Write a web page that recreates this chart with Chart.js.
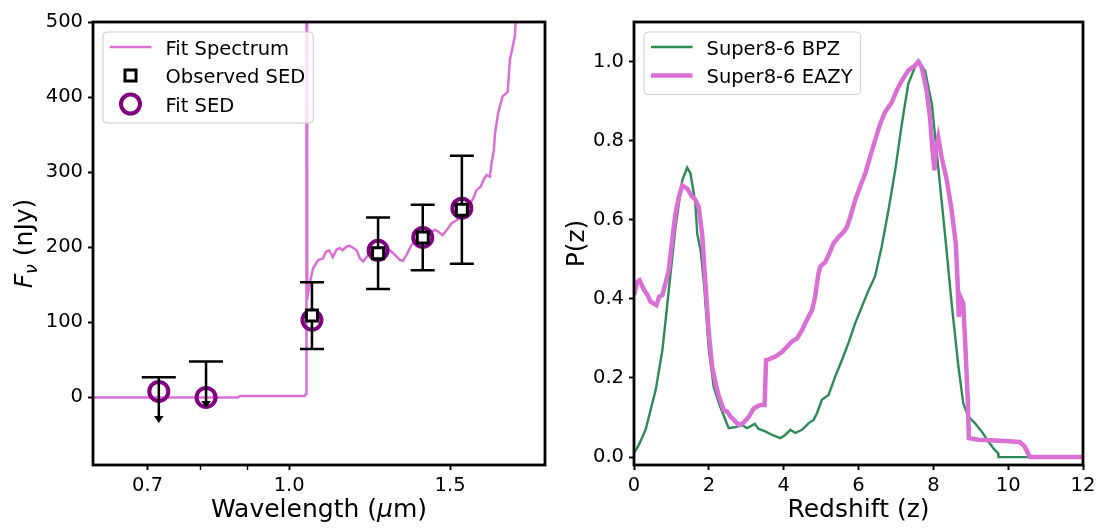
<!DOCTYPE html>
<html><head><meta charset="utf-8">
<script src="https://cdn.jsdelivr.net/npm/chart.js@4.4.1/dist/chart.umd.min.js"></script>
<style>
html,body{margin:0;padding:0;background:#fff;}
#wrap{position:relative;width:1115px;height:529px;overflow:hidden;}
#c1{position:absolute;left:0;top:0;}
#c2{position:absolute;left:560px;top:0;}
</style></head><body>
<div id="wrap"><canvas id="c1" width="560" height="529"></canvas><canvas id="c2" width="555" height="529"></canvas></div>
<script>
// ---------- Left panel: SED ----------
const specWave = [0.60, 0.878, 0.884, 1.040, 1.0435, 1.0445, 1.0465, 1.049, 1.055, 1.062, 1.076, 1.089, 1.097, 1.106, 1.116, 1.127, 1.136, 1.144, 1.156, 1.165, 1.175, 1.185, 1.195, 1.205, 1.217, 1.231, 1.251, 1.273, 1.289, 1.305, 1.322, 1.332, 1.344, 1.361, 1.379, 1.400, 1.425, 1.443, 1.455, 1.472, 1.487, 1.506, 1.525, 1.545, 1.570, 1.590, 1.603, 1.620, 1.631, 1.644, 1.658, 1.665, 1.675, 1.679, 1.693, 1.712, 1.734, 1.744, 1.766, 1.769, 1.80];
const specFlux = [0, 0, 2, 2, 5, 2500, 130, 140, 156, 172, 183, 185, 194, 196, 187, 197, 199, 196, 201, 202, 199, 196, 185, 181, 188, 196, 198, 196, 196, 190, 183, 182, 190, 203, 210, 214, 219, 223, 221, 216, 223, 232, 236, 244, 254, 265, 276, 281, 289, 296, 294, 312, 330, 350, 379, 401, 407, 450, 481, 500, 700];
const obsWave = [1.059, 1.251, 1.400, 1.545];
const obsFlux = [109, 192, 213, 250];
const obsErr = [44.5, 47.5, 43.5, 72];
const limWave = [0.720, 0.811];
const limFlux = [27, 48];
const limDrop = [61, 62];
const fitWave = [0.720, 0.811, 1.059, 1.251, 1.400, 1.545];
const fitFlux = [8, 0, 103, 196, 213, 252];
const sedXTicks = [0.7, 0.8, 0.9, 1.0, 1.5];
const sedXLabels = ['0.7', '', '', '1.0', '1.5'];
const sedYTicks = [0, 100, 200, 300, 400, 500];

// ---------- Right panel: P(z) ----------
const zBPZ = [0, 0.13, 0.31, 0.58, 0.76, 0.93, 1.11, 1.29, 1.42, 1.51, 1.64, 1.69, 1.78, 1.87, 2.0, 2.13, 2.27, 2.53, 2.71, 2.89, 3.02, 3.23, 3.33, 3.51, 3.69, 3.91, 4.04, 4.18, 4.31, 4.49, 4.67, 4.8, 4.89, 5.02, 5.2, 5.38, 5.56, 5.73, 5.91, 6.09, 6.27, 6.44, 6.62, 6.8, 6.98, 7.16, 7.33, 7.51, 7.6, 7.78, 7.96, 8.13, 8.31, 8.49, 8.67, 8.8, 8.93, 9.11, 9.29, 9.47, 9.64, 9.73, 9.74, 12];
const pBPZ = [0.01, 0.031, 0.069, 0.17, 0.271, 0.422, 0.582, 0.70, 0.732, 0.717, 0.641, 0.565, 0.523, 0.439, 0.271, 0.178, 0.136, 0.073, 0.076, 0.081, 0.073, 0.084, 0.071, 0.065, 0.056, 0.048, 0.056, 0.069, 0.061, 0.069, 0.086, 0.094, 0.111, 0.145, 0.157, 0.204, 0.246, 0.288, 0.338, 0.38, 0.422, 0.456, 0.532, 0.624, 0.725, 0.843, 0.944, 0.986, 1.0, 0.977, 0.893, 0.733, 0.565, 0.388, 0.229, 0.136, 0.103, 0.086, 0.065, 0.039, 0.018, 0.01, 0, 0];
const zEAZY = [0, 0.09, 0.15, 0.27, 0.36, 0.44, 0.53, 0.6, 0.67, 0.76, 0.84, 0.93, 1.02, 1.11, 1.2, 1.29, 1.42, 1.56, 1.64, 1.73, 1.82, 1.91, 2.0, 2.09, 2.18, 2.27, 2.4, 2.49, 2.58, 2.67, 2.8, 2.93, 3.07, 3.2, 3.29, 3.38, 3.49, 3.53, 3.6, 3.78, 3.96, 4.09, 4.22, 4.36, 4.49, 4.62, 4.76, 4.84, 4.93, 4.98, 5.11, 5.2, 5.33, 5.47, 5.6, 5.69, 5.78, 5.91, 6.04, 6.18, 6.31, 6.44, 6.58, 6.71, 6.89, 7.02, 7.16, 7.33, 7.51, 7.6, 7.69, 7.82, 7.91, 7.97, 8.03, 8.06, 8.13, 8.22, 8.36, 8.49, 8.6, 8.65, 8.68, 8.74, 8.8, 8.86, 8.92, 8.95, 9.2, 9.64, 10.0, 10.31, 10.44, 10.58, 12];
const pEAZY = [0.41, 0.443, 0.447, 0.422, 0.41, 0.393, 0.388, 0.384, 0.405, 0.41, 0.439, 0.473, 0.548, 0.616, 0.658, 0.687, 0.679, 0.658, 0.651, 0.632, 0.565, 0.439, 0.313, 0.228, 0.187, 0.153, 0.119, 0.115, 0.102, 0.094, 0.081, 0.087, 0.102, 0.123, 0.128, 0.132, 0.132, 0.245, 0.247, 0.254, 0.266, 0.279, 0.292, 0.3, 0.321, 0.347, 0.372, 0.405, 0.464, 0.482, 0.493, 0.51, 0.54, 0.557, 0.569, 0.582, 0.607, 0.649, 0.683, 0.717, 0.759, 0.8, 0.843, 0.872, 0.897, 0.927, 0.952, 0.977, 0.99, 1.0, 0.986, 0.927, 0.86, 0.784, 0.725, 0.776, 0.809, 0.759, 0.7, 0.624, 0.54, 0.439, 0.355, 0.401, 0.388, 0.271, 0.145, 0.048, 0.044, 0.042, 0.04, 0.038, 0.027, 0, 0];
const zTicks = [0, 2, 4, 6, 8, 10, 12];
const pTicks = [0, 0.2, 0.4, 0.6, 0.8, 1.0];

const FONT = "'DejaVu Sans', sans-serif";
const ORCHID = '#DA70D6', SEAGREEN = '#2E8B57', PURPLE = '#800080';
const TICK_PX = 19.5, LEG_PX = 19.5, TITLE_PX = 25;
Chart.defaults.color = '#000';
Chart.defaults.font.family = FONT;

const pts = (xs, ys) => xs.map((x, i) => ({x: x, y: ys[i]}));

function rrect(ctx, x, y, w, h, r) {
  ctx.beginPath();
  ctx.moveTo(x + r, y); ctx.lineTo(x + w - r, y); ctx.arcTo(x + w, y, x + w, y + r, r);
  ctx.lineTo(x + w, y + h - r); ctx.arcTo(x + w, y + h, x + w - r, y + h, r);
  ctx.lineTo(x + r, y + h); ctx.arcTo(x, y + h, x, y + h - r, r);
  ctx.lineTo(x, y + r); ctx.arcTo(x, y, x + r, y, r); ctx.closePath();
}
function marker(ctx, style, r, x, y) {
  ctx.beginPath();
  if (style === 'rect') { const s = r * Math.SQRT1_2; ctx.rect(x - s, y - s, 2 * s, 2 * s); }
  else { ctx.arc(x, y, r, 0, Math.PI * 2); }
  ctx.fill(); ctx.stroke();
}
// draw a run of [text, italic?, size, dy] pieces centred on (0,0)
function drawRuns(ctx, runs, baseline) {
  const fontOf = r => (r[1] ? 'italic ' : '') + r[2] + 'px ' + FONT;
  let total = 0;
  const ws = runs.map(r => { ctx.font = fontOf(r); const w = ctx.measureText(r[0]).width; total += w; return w; });
  let x0 = -total / 2;
  ctx.fillStyle = '#000'; ctx.textBaseline = baseline; ctx.textAlign = 'left';
  runs.forEach((r, i) => { ctx.font = fontOf(r); ctx.fillText(r[0], x0, r[3]); x0 += ws[i]; });
}

const framePlugin = {
  id: 'frame',
  afterDraw(chart) {
    const {ctx, chartArea: a} = chart;
    ctx.save(); ctx.strokeStyle = '#000'; ctx.lineWidth = 2.8;
    ctx.strokeRect(a.left, a.top, a.right - a.left, a.bottom - a.top);
    ctx.restore();
  }
};

const boxLegend = {
  id: 'boxLegend',
  afterDatasetsDraw(chart, args, opts) {
    if (!opts || !opts.items) return;
    const ctx = chart.ctx, a = chart.chartArea;
    ctx.save();
    ctx.font = LEG_PX + 'px ' + FONT;
    let maxW = 0;
    opts.items.forEach(i => { maxW = Math.max(maxW, ctx.measureText(chart.data.datasets[i].label).width); });
    const fx = a.left + 10, fy = a.top + 10;
    const textX = fx + 62.5;
    const fw = textX - fx + maxW + 8;
    const fh = 15 + (opts.items.length - 1) * 28.5 + 19;
    rrect(ctx, fx, fy, fw, fh, 4);
    ctx.fillStyle = 'rgba(255,255,255,0.8)'; ctx.fill();
    ctx.strokeStyle = '#cccccc'; ctx.lineWidth = 1; ctx.stroke();
    opts.items.forEach((di, k) => {
      const ds = chart.data.datasets[di];
      const cy = fy + 15 + k * 28.5;
      if (ds.showLine) {
        ctx.strokeStyle = ds.borderColor; ctx.lineWidth = ds.borderWidth; ctx.lineCap = 'butt';
        ctx.beginPath(); ctx.moveTo(fx + 7, cy); ctx.lineTo(fx + 48.5, cy); ctx.stroke();
      } else {
        ctx.fillStyle = ds.backgroundColor; ctx.strokeStyle = ds.borderColor; ctx.lineWidth = ds.pointBorderWidth;
        marker(ctx, ds.pointStyle, ds.pointRadius, fx + 27.5, cy);
      }
      ctx.fillStyle = '#000'; ctx.textBaseline = 'alphabetic'; ctx.textAlign = 'left';
      ctx.fillText(ds.label, textX, cy + 7.6);
    });
    ctx.restore();
  }
};

const errorBars = {
  id: 'errorBars',
  afterDatasetDraw(chart, args, opts) {
    if (!opts || args.index !== opts.afterIndex) return;
    const {ctx, chartArea: a} = chart;
    const xs = chart.scales.x, ys = chart.scales.y;
    ctx.save();
    ctx.beginPath(); ctx.rect(a.left, a.top, a.right - a.left, a.bottom - a.top); ctx.clip();
    ctx.strokeStyle = '#000'; ctx.fillStyle = '#000'; ctx.lineWidth = 2.5; ctx.lineCap = 'butt';
    obsWave.forEach((w, i) => {
      const px = xs.getPixelForValue(w);
      const yl = ys.getPixelForValue(obsFlux[i] - obsErr[i]);
      const yh = ys.getPixelForValue(obsFlux[i] + obsErr[i]);
      ctx.beginPath();
      ctx.moveTo(px, yl); ctx.lineTo(px, yh);
      ctx.moveTo(px - 12, yl); ctx.lineTo(px + 12, yl);
      ctx.moveTo(px - 12, yh); ctx.lineTo(px + 12, yh);
      ctx.stroke();
    });
    limWave.forEach((w, i) => {
      const px = xs.getPixelForValue(w);
      const yt = ys.getPixelForValue(limFlux[i]);
      const yb = ys.getPixelForValue(limFlux[i] - limDrop[i]);
      ctx.beginPath();
      ctx.moveTo(px, yt); ctx.lineTo(px, yb - 6);
      ctx.moveTo(px - 17, yt); ctx.lineTo(px + 17, yt);
      ctx.stroke();
      ctx.beginPath(); ctx.moveTo(px - 4.8, yb - 7); ctx.lineTo(px + 4.8, yb - 7); ctx.lineTo(px, yb); ctx.closePath(); ctx.fill();
    });
    ctx.restore();
  }
};

const mathTitles = {
  id: 'mathTitles',
  afterDraw(chart, args, opts) {
    if (!opts || !opts.display) return;
    const {ctx, chartArea: a} = chart;
    // y-axis title: F_nu (nJy)
    ctx.save();
    ctx.translate(opts.yTitleX, (a.top + a.bottom) / 2); ctx.rotate(-Math.PI / 2);
    drawRuns(ctx, [['F', true, TITLE_PX, 0], ['ν', true, TITLE_PX * 0.7, 4.5], [' (nJy)', false, TITLE_PX, 0]], 'alphabetic');
    ctx.restore();
    // x-axis title: Wavelength (mu m)
    ctx.save();
    ctx.translate((a.left + a.right) / 2, opts.xTitleY);
    drawRuns(ctx, [['Wavelength (', false, TITLE_PX, 0], ['μ', true, TITLE_PX, 0], ['m)', false, TITLE_PX, 0]], 'middle');
    ctx.restore();
  }
};

function axisCommon(extra) {
  return Object.assign({
    bounds: 'data',
    grid: {drawOnChartArea: false, drawTicks: true, tickLength: 5, tickColor: '#000', tickWidth: 2},
    border: {display: false},
  }, extra);
}

// Left chart
new Chart(document.getElementById('c1'), {
  type: 'scatter',
  data: {
    datasets: [
      {label: 'Fit Spectrum', data: pts(specWave, specFlux), showLine: true, borderColor: ORCHID, backgroundColor: ORCHID,
       borderWidth: 2.5, pointRadius: 0, tension: 0, order: 3},
      {label: 'Fit SED', data: pts(fitWave, fitFlux), showLine: false, pointStyle: 'circle', pointRadius: 9.5,
       pointBorderWidth: 4, borderWidth: 4, borderColor: PURPLE, backgroundColor: 'rgba(0,0,0,0)', order: 2},
      {label: 'Observed SED', data: pts(obsWave, obsFlux), showLine: false, pointStyle: 'rect', pointRadius: 7.8,
       pointBorderWidth: 3, borderWidth: 3, borderColor: '#000', backgroundColor: '#fff', order: 1}
    ]
  },
  options: {
    responsive: false, animation: false, events: [],
    layout: {padding: {left: 0, top: 22, right: 15, bottom: 0}},
    plugins: {
      legend: {display: false}, tooltip: {enabled: false},
      boxLegend: {items: [0, 2, 1]},
      errorBars: {afterIndex: 1},
      mathTitles: {display: true, yTitleX: 32, xTitleY: 510}
    },
    scales: {
      x: axisCommon({
        type: 'logarithmic', min: 0.61, max: 1.905,
        afterBuildTicks: s => { s.ticks = sedXTicks.map(v => ({value: v})); },
        afterFit: s => { s.height = 64; },
        ticks: {font: {size: TICK_PX}, padding: 4, maxRotation: 0, autoSkip: false,
                callback: (v, i) => sedXLabels[i]},
        grid: {drawOnChartArea: false, drawTicks: true, tickLength: 5, tickColor: '#000',
               tickWidth: c => (sedXLabels[c.index] ? 2 : 1.4)},
        title: {display: false, text: 'Wavelength (μm)'}
      }),
      y: axisCommon({
        type: 'linear', min: -90, max: 500,
        afterBuildTicks: s => { s.ticks = sedYTicks.map(v => ({value: v})); },
        afterFit: s => { s.width = 93; },
        ticks: {font: {size: TICK_PX}, padding: 5, callback: v => String(v)},
        title: {display: false, text: 'Fν (nJy)'}
      })
    }
  },
  plugins: [errorBars, boxLegend, framePlugin, mathTitles]
});

// Right chart
new Chart(document.getElementById('c2'), {
  type: 'scatter',
  data: {
    datasets: [
      {label: 'Super8-6 BPZ', data: pts(zBPZ, pBPZ), showLine: true, borderColor: SEAGREEN, backgroundColor: SEAGREEN,
       borderWidth: 2.4, pointRadius: 0, tension: 0, order: 2},
      {label: 'Super8-6 EAZY', data: pts(zEAZY, pEAZY), showLine: true, borderColor: ORCHID, backgroundColor: ORCHID,
       borderWidth: 4.5, pointRadius: 0, tension: 0, order: 1}
    ]
  },
  options: {
    responsive: false, animation: false, events: [],
    layout: {padding: {left: 0, top: 22, right: 32, bottom: 0}},
    plugins: {
      legend: {display: false}, tooltip: {enabled: false},
      boxLegend: {items: [0, 1]}
    },
    scales: {
      x: axisCommon({
        type: 'linear', min: 0, max: 12,
        afterBuildTicks: s => { s.ticks = zTicks.map(v => ({value: v})); },
        afterFit: s => { s.height = 64; },
        ticks: {font: {size: TICK_PX}, padding: 4, maxRotation: 0, autoSkip: false, callback: v => String(v)},
        title: {display: true, text: 'Redshift (z)', font: {size: TITLE_PX}, padding: {top: 0, bottom: 4}}
      }),
      y: axisCommon({
        type: 'linear', min: -0.02, max: 1.1,
        afterBuildTicks: s => { s.ticks = pTicks.map(v => ({value: v})); },
        afterFit: s => { s.width = 74; },
        ticks: {font: {size: TICK_PX}, padding: 5, callback: v => Number(v).toFixed(1)},
        title: {display: true, text: 'P(z)', font: {size: TITLE_PX}, padding: {top: 2, bottom: 0}}
      })
    }
  },
  plugins: [boxLegend, framePlugin]
});
</script>
</body></html>
